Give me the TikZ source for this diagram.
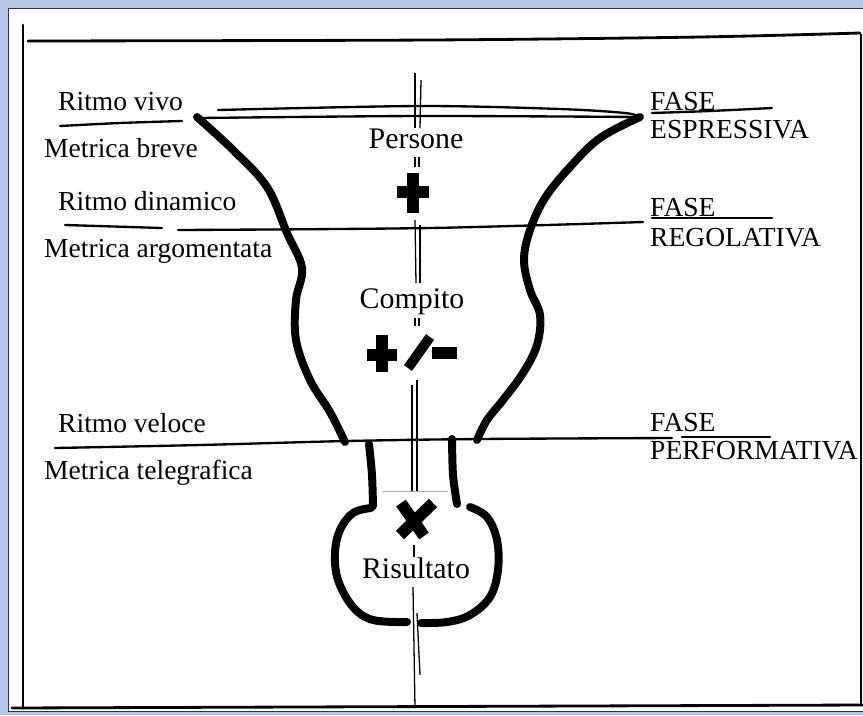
\documentclass[tikz,border=0pt]{standalone}
\usepackage{fontspec}
\setmainfont{Liberation Serif}
\usetikzlibrary{positioning}
\definecolor{sheetblue}{RGB}{180,199,231}

\begin{document}
\begin{tikzpicture}[
    x=0.03cm, y=-0.03cm,
    txt/.style={inner sep=0pt, anchor=base west, font=\fontsize{23.5}{26}\selectfont},
    mid/.style={inner sep=0pt, anchor=base, font=\fontsize{25.5}{28}\selectfont},
    frame/.style={line width=2.4pt, line cap=round},
    rule/.style={line width=2pt, line cap=round},
    axis/.style={line width=1.1pt},
    contour/.style={line width=6.8pt, line cap=round, line join=round},
    glyph/.style={line width=9.5pt}
]
\useasboundingbox (0,0) rectangle (863,715);

% Sheet
\fill[sheetblue] (0,0) rectangle (863,715);
\filldraw[fill=white, draw=black!80, line width=0.8pt] (8,8) rectangle (863,711);

% Hand drawn frame
\draw[frame] plot[smooth] coordinates {(28,41) (430,40) (700,37) (860,33)};
\draw[frame] (23,25) -- (23,708);
\draw[frame] (12,708) -- (863,705);
\draw[line width=1.2pt] (861,34) -- (861,704);

% Left labels
\node[txt] (vivo) at (58,110) {Ritmo vivo};
\node[txt] (breve) at (44,157) {Metrica breve};
\node[txt] (dinamico) at (58,210) {Ritmo dinamico};
\node[txt] (argom) at (44,257) {Metrica argomentata};
\node[txt] (veloce) at (58,432) {Ritmo veloce};
\node[txt] (teleg) at (44,479) {Metrica telegrafica};

% Phase labels
\node[txt] (fase1) at (650,110) {FASE};
\node[txt] (espr) at (650,138) {ESPRESSIVA};
\node[txt] (fase2) at (650,216) {FASE};
\node[txt] (regol) at (650,246) {REGOLATIVA};
\node[txt] (fase3) at (650,431) {FASE};
\node[txt] (perf) at (650,459) {PERFORMATIVA};

% Centre labels
\node[mid] (persone) at (416,148) {Persone};
\node[mid] (compito) at (412,308) {Compito};
\node[mid] (risultato) at (416,578) {Risultato};

% Phase lines
\draw[rule] plot[smooth] coordinates {(218,110) (420,106) (560,109) (625,113) (640,117)};
\draw[rule] plot[smooth] coordinates {(200,118) (420,116) (640,117)};
\draw[rule] plot[smooth] coordinates {(60,126) (120,123) (182,121)};
\draw[rule] plot[smooth] coordinates {(652,113) (710,111) (772,108)};
\draw[rule] plot[smooth] coordinates {(65,225) (162,228)};
\draw[rule] plot[smooth] coordinates {(178,230) (430,228) (643,222)};
\draw[rule] plot[smooth] coordinates {(652,218) (772,218)};
\draw[rule] plot[smooth] coordinates {(55,448) (200,445) (347,441) (479,439) (672,438)};
\draw[rule] (682,437) -- (770,437);

% Axis
\draw[axis] (415,73) -- (415,128);
\draw[axis] (421,80) -- (420,128);
\draw[axis] (415,157) -- (415,167);
\draw[axis] (419,157) -- (419,167);
\draw[axis] (415,220) -- (416,283);
\draw[axis] (420,225) -- (420,283);
\draw[axis] (415,318) -- (415,326);
\draw[axis] (419,318) -- (419,326);
\draw[axis] (417,380) -- (417,491);
\draw[axis] (412,385) -- (412,491);
\draw[axis] (414,545) -- (414,557);
\draw[axis] (413,587) -- (415,708);
\draw[axis] (417,613) -- (420,675);
\draw[black!35, line width=0.8pt] (383,491) -- (448,491);

% Vase
\draw[contour] plot[smooth, tension=0.6] coordinates {(197,117) (233,150) (267,187) (287,233) (302,268) (296,300) (296,340) (310,380) (330,412) (345,442)};
\draw[contour] plot[smooth, tension=0.6] coordinates {(640,117) (600,138) (570,167) (545,198) (530,230) (524,260) (530,290) (540,315) (537,345) (523,373) (503,400) (487,420) (477,440)};
\draw[contour] plot[smooth] coordinates {(369,444) (372,475) (373,506)};
\draw[contour] plot[smooth] coordinates {(452,439) (453,475) (457,504)};
\draw[contour] plot[smooth, tension=0.6] coordinates {(371,508) (353,513) (340,530) (335,553) (338,580) (353,607) (373,620) (407,622)};
\draw[contour] plot[smooth, tension=0.6] coordinates {(470,507) (487,517) (497,540) (498,570) (490,597) (470,615) (447,622) (421,623)};

% Signs
\draw[glyph] (397,192) -- (429,192);
\draw[glyph] (413,173) -- (413,213);
\draw[glyph] (367,355) -- (397,355);
\draw[glyph] (382,335) -- (382,372);
\draw[line width=8.5pt] (408,368) -- (430,337);
\draw[glyph] (432,353) -- (457,353);
\draw[line width=10pt] (401,503) -- (424,536);
\draw[line width=10pt] (433,503) -- (400,535);

\end{tikzpicture}
\end{document}
